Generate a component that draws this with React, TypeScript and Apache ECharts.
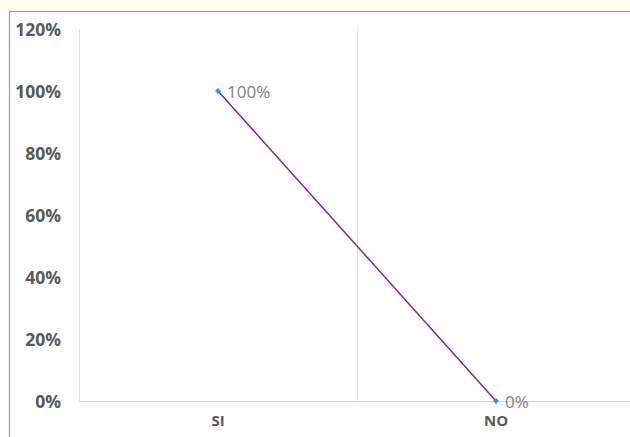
import React, { useEffect, useRef } from "react";
import * as echarts from "echarts";

const categories = ["SI", "NO"];
const values = [1, 0];
const yTicks = [0, 0.2, 0.4, 0.6, 0.8, 1.0, 1.2];

export default function App() {
  const ref = useRef<HTMLDivElement>(null);
  useEffect(() => {
    if (!ref.current) return;
    const chart = echarts.init(ref.current, null, { renderer: "svg" });
    chart.setOption({
      animation: false,
      backgroundColor: "#ffffff",
      graphic: [
        { type: "rect", shape: { x: 0, y: 0, width: 630, height: 11 }, style: { fill: "#fffcf2" }, z: -1 },
        {
          type: "polyline",
          shape: { points: [[9.5, 437], [9.5, 11.5], [630, 11.5]] },
          style: { fill: "none", stroke: "#a496aa", lineWidth: 1.2 },
          z: 10,
        },
      ],
      grid: { left: 79, width: 556, top: 29, bottom: 36, containLabel: false, outerBoundsMode: "none" },
      xAxis: {
        type: "category",
        data: categories,
        boundaryGap: true,
        axisLine: { show: true, lineStyle: { color: "#d9d9d9", width: 1 } },
        axisTick: { show: false },
        splitLine: { show: true, lineStyle: { color: "#e3e3e3", width: 1 } },
        axisLabel: { color: "#595959", fontSize: 15, fontWeight: "bold", fontFamily: "Open Sans", margin: 11 },
      },
      yAxis: {
        type: "value",
        min: yTicks[0],
        max: yTicks[yTicks.length - 1],
        interval: 0.2,
        axisLine: { show: false },
        axisTick: { show: false },
        splitLine: { show: false },
        axisLabel: {
          color: "#595959",
          fontSize: 17.5,
          fontWeight: "bold",
          fontFamily: "Open Sans",
          margin: 18,
          formatter: (v: number) => Math.round(v * 100) + "%",
        },
      },
      series: [
        {
          type: "line",
          data: values,
          symbol: "diamond",
          symbolSize: 6,
          itemStyle: { color: "#2e9ad4" },
          lineStyle: { color: "#7030a0", width: 1.5 },
          label: {
            show: true,
            position: "right",
            distance: 6,
            color: "#808080",
            fontSize: 17,
            fontFamily: "Open Sans",
            formatter: (p: any) => Math.round(p.value * 100) + "%",
          },
        },
      ],
    });
    return () => chart.dispose();
  }, []);
  return <div ref={ref} style={{ position: "fixed", left: 0, top: 0, width: 630, height: 437 }} />;
}
